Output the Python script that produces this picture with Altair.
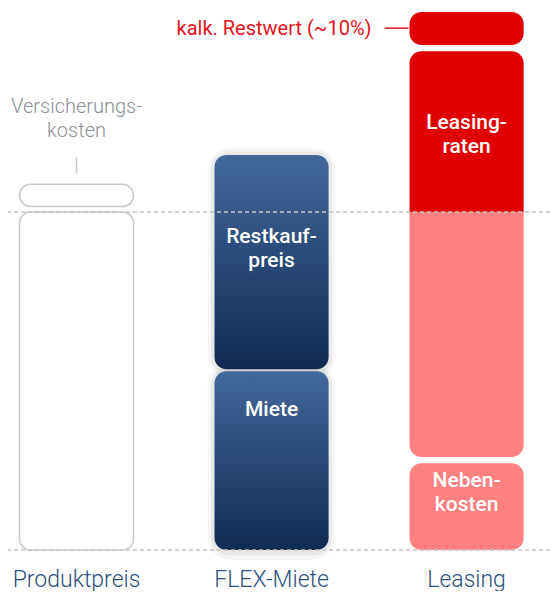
import altair as alt
import pandas as pd

# ---- data (values in % of product price) ----
categories = ["Produktpreis", "FLEX-Miete", "Leasing"]

seg_category = ["Produktpreis", "Produktpreis", "FLEX-Miete", "FLEX-Miete",
                "Leasing", "Leasing", "Leasing", "Leasing"]
seg_name = ["Produktpreis", "Versicherungskosten", "Miete", "Restkaufpreis",
            "Nebenkosten", "Leasingraten (Produktanteil)", "Leasingraten", "Restwert"]
seg_start = [0, 101.6, 0, 53.5, 0, 27.5, 100, 149.4]
seg_end = [100, 108.2, 52.9, 116.9, 25.7, 100, 147.6, 159.2]

label_category = ["FLEX-Miete", "FLEX-Miete", "Leasing", "Leasing"]
label_text = ["Restkauf-\npreis", "Miete", "Leasing-\nraten", "Neben-\nkosten"]
label_value = [90.8, 39.6, 124.6, 18.6]

reference_lines = [0, 100]

insurance_note = "Versicherungs-\nkosten"
insurance_note_value = 129.3
insurance_tick = [111.5, 116.3]

residual_note = "kalk. Restwert (~10%)"
residual_note_value = 152.4
residual_line_value = 154.4

# ---- tables ----
seg_df = pd.DataFrame({"cat": seg_category, "seg": seg_name,
                       "start": seg_start, "end": seg_end})
lab_df = pd.DataFrame({"cat": label_category, "text": label_text, "v": label_value})
ref_df = pd.DataFrame({"v": reference_lines})
ins_df = pd.DataFrame({"cat": ["Produktpreis"], "text": [insurance_note],
                       "v": [insurance_note_value],
                       "t0": [insurance_tick[0]], "t1": [insurance_tick[1]]})
res_df = pd.DataFrame({"cat": ["Leasing"], "text": [residual_note],
                       "v": [residual_note_value], "lv": [residual_line_value]})

FONT = "Roboto"
NAVY_TXT = "#2d4f80"
RED = "#e10000"
PINK = "#ff8080"

x_scale = alt.Scale(domain=categories, paddingInner=0.415, paddingOuter=0.097, align=0.303)
y_scale = alt.Scale(domain=[0, 160.36], nice=False, zero=False)

x_axis = alt.Axis(title=None, labelAngle=0, domain=False, ticks=False, tickSize=0,
                  labelPadding=36, labelBaseline="alphabetic", labelFontSize=23,
                  labelColor=NAVY_TXT, labelFont=FONT, grid=False, labelFontWeight=300)

def x_enc(**kw):
    return alt.X("cat:N", sort=categories, scale=x_scale, axis=x_axis, **kw)

def bars(names, **mark):
    return (alt.Chart(seg_df)
            .transform_filter(alt.FieldOneOfPredicate(field="seg", oneOf=names))
            .mark_bar(**mark)
            .encode(x=x_enc(),
                    y=alt.Y("start:Q", scale=y_scale, axis=None),
                    y2="end:Q"))

navy = alt.Gradient(gradient="linear",
                    stops=[alt.GradientStop(color="#42689b", offset=0),
                           alt.GradientStop(color="#0f2b52", offset=1)],
                    x1=0, x2=0, y1=0, y2=1)

flex = ["Miete", "Restkaufpreis"]

layers = [
    bars(["Produktpreis", "Versicherungskosten"], fill="white",
         stroke="#c9c9c9", strokeWidth=1.5, cornerRadius=11),
    bars(flex, fill="transparent", stroke="black", strokeOpacity=0.035,
         strokeWidth=14, cornerRadius=16, yOffset=3),
    bars(flex, fill="transparent", stroke="black", strokeOpacity=0.05,
         strokeWidth=7, cornerRadius=14, yOffset=2),
    bars(flex, fill=navy, cornerRadius=12),
    bars(["Nebenkosten"], fill=PINK, cornerRadius=12),
    bars(["Leasingraten (Produktanteil)"], fill=PINK,
         cornerRadiusBottomLeft=12, cornerRadiusBottomRight=12),
    bars(["Leasingraten"], fill=RED,
         cornerRadiusTopLeft=12, cornerRadiusTopRight=12),
    bars(["Restwert"], fill=RED, cornerRadius=12),
    alt.Chart(ref_df).mark_rule(color="#c4c4c4", strokeDash=[4, 3], strokeWidth=1.5)
       .encode(y=alt.Y("v:Q", scale=y_scale, axis=None)),
    alt.Chart(lab_df).mark_text(color="white", font=FONT, fontSize=21, fontWeight=500,
                                align="center", baseline="alphabetic", lineBreak="\n",
                                lineHeight=24)
       .encode(x=x_enc(), y=alt.Y("v:Q", scale=y_scale, axis=None), text="text:N"),
    alt.Chart(ins_df).mark_text(color="#8b9096", font=FONT, fontSize=20, fontWeight=300,
                                align="center", baseline="alphabetic", lineBreak="\n",
                                lineHeight=24)
       .encode(x=x_enc(), y=alt.Y("v:Q", scale=y_scale, axis=None), text="text:N"),
    alt.Chart(ins_df).mark_rule(color="#c9c9c9", strokeWidth=1.5)
       .encode(x=x_enc(), y=alt.Y("t0:Q", scale=y_scale, axis=None), y2="t1:Q"),
    alt.Chart(res_df).mark_text(color="#e3151d", font=FONT, fontSize=20, fontWeight=400,
                                align="right", baseline="alphabetic", dx=-38)
       .encode(x=x_enc(bandPosition=0), y=alt.Y("v:Q", scale=y_scale, axis=None),
               text="text:N"),
    alt.Chart(res_df).mark_rule(color="#e3151d", strokeWidth=1.5, xOffset=-25, x2Offset=-1)
       .encode(x=x_enc(bandPosition=0), x2=alt.X2("cat:N", bandPosition=0),
               y=alt.Y("lv:Q", scale=y_scale, axis=None)),
]

chart = (alt.layer(*layers)
         .properties(width=542, height=542,
                     autosize=alt.AutoSizeParams(type="none"),
                     padding={"left": 0, "top": 0, "right": 0, "bottom": 41},
                     background="white")
         .configure_view(stroke=None))

chart.save("out.html", embed_options={"renderer": "svg", "actions": False})
